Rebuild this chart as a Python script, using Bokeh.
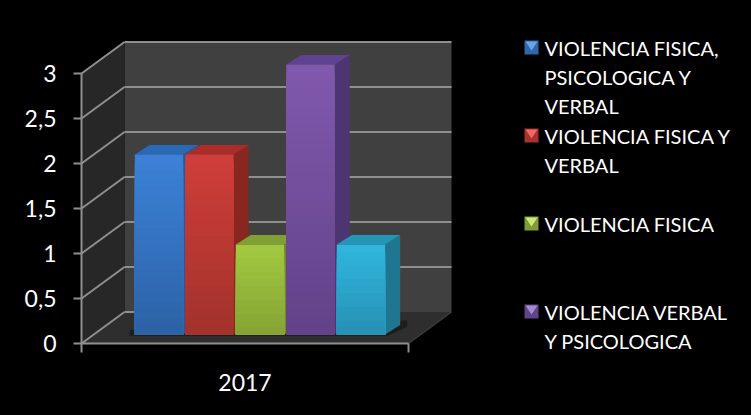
from bokeh.plotting import figure
from bokeh.models import LinearAxis, FixedTicker, Range1d
from bokeh.core.properties import value
from bokeh.embed import file_html
from bokeh.resources import INLINE

# ---- data ----
categories = ["2017"]
series_names = ["VIOLENCIA FISICA, PSICOLOGICA Y VERBAL", "VIOLENCIA FISICA Y VERBAL",
                "VIOLENCIA FISICA", "VIOLENCIA VERBAL Y PSICOLOGICA", "OTRA"]
series_values = [2, 2, 1, 3, 1]
y_ticks = [0, 0.5, 1, 1.5, 2, 2.5, 3]
y_tick_labels = ["0", "0,5", "1", "1,5", "2", "2,5", "3"]
legend_lines = [["VIOLENCIA FISICA,", "PSICOLOGICA Y", "VERBAL"],
                ["VIOLENCIA FISICA Y", "VERBAL"],
                ["VIOLENCIA FISICA"],
                ["VIOLENCIA VERBAL", "Y PSICOLOGICA"]]
top_colors = ["#3c82d8", "#d03e3a", "#a2ca40", "#8059ae", "#30b7de"]
bottom_colors = ["#2c62a6", "#a2322b", "#84a334", "#634288", "#2790b4"]
side_colors = ["#245a9c", "#8a2620", "#6f8a2c", "#4c3570", "#1f7690"]
cap_colors = ["#2a69b6", "#aa2d29", "#7fa033", "#5f4291", "#2596b8"]
legend_light = ["#6aa5e6", "#ec6a66", "#d0e878", "#a68ad0"]
legend_dark = ["#2f68aa", "#a8322e", "#7f9c38", "#5f4488"]

FONT = "Lato"
LINE = "#8f8f8f"

# ---- layout helpers (page pixels -> data) ----
W, H = 751, 415
def X(px): return (px - 158.5) / 50.5
def Y(py): return (343 - py) / 90.0

p = figure(width=W, height=H, output_backend="svg", toolbar_location=None,
           x_range=Range1d(X(0), X(W)), y_range=Range1d(Y(H), Y(0)),
           background_fill_color="black", border_fill_color="black",
           min_border=0, outline_line_color=None)
p.grid.visible = False
p.xaxis.visible = False
p.yaxis.visible = False

DX, DY = 43 / 50.5, 31.5 / 90.0
x0, x1 = X(81), X(408)
top = max(y_ticks)

# walls and floor
p.patch([x0 + DX, x1 + DX, x1 + DX, x0 + DX], [DY, DY, top + DY, top + DY], fill_color="#404040", line_color=None)
p.patch([x0, x0 + DX, x0 + DX, x0], [0, DY, top + DY, top], fill_color="#272727", line_color=None)
p.patch([x0, x1, x1 + DX, x0 + DX], [0, 0, DY, DY], fill_color="#2e2e2e", line_color=None)

# gridlines
for t in y_ticks:
    p.line([x0, x0 + DX], [t, t + DY], line_color=LINE, line_width=2)
    if t > 0:
        p.line([x0 + DX, x1 + DX], [t + DY, t + DY], line_color=LINE, line_width=2)
p.line([x0 + DX, x0 + DX + 0.3], [DY, DY], line_color=LINE, line_width=2)
p.line([x1, x1 + DX], [0, DY], line_color="#3c3c3c", line_width=1.5)

# bars
BASE = 9 / 90.0
HALF = 24.2 / 50.5
bx, by = 15 / 50.5, 9.5 / 90.0

def mix(a, b, t):
    ca = [int(a[i:i + 2], 16) for i in (1, 3, 5)]
    cb = [int(b[i:i + 2], 16) for i in (1, 3, 5)]
    return "#%02x%02x%02x" % tuple(round(u + (v - u) * t) for u, v in zip(ca, cb))

# shadow on the floor
n = len(series_values)
end = n - 1 + HALF
p.patch([-HALF - 0.1, end + 0.05, end + bx + 0.14, end + bx + 0.14, -HALF - 0.1],
        [BASE - 0.015, BASE - 0.015, BASE + by - 0.02, BASE + by + 0.05, BASE + 0.05],
        fill_color="#1d1d1d", line_color=None)

STEPS = 28
for i, v in enumerate(series_values):
    l, r = i - HALF, i + HALF
    b, t = BASE, BASE + v
    p.patch([r, r + bx, r + bx, r], [b, b + by, t + by, t], fill_color=side_colors[i], line_color=None)
    p.patch([l, l + bx, r + bx, r], [t, t + by, t + by, t], fill_color=cap_colors[i], line_color=None)
    steps = max(4, int(STEPS * v / 3) + 4)
    # slices are painted from the top down, each reaching to the base, so no seams show
    for k in range(steps, 0, -1):
        tk = b + (t - b) * k / steps
        col = mix(bottom_colors[i], top_colors[i], (k - 0.5) / steps)
        p.quad(left=[l], right=[r], bottom=[b], top=[tk], fill_color=col, line_color=None)

# axes
p.line([x0, x0], [0, top], line_color=LINE, line_width=2)
p.line([x0, x1], [0, 0], line_color=LINE, line_width=2)
tick_drop = 9 / 90.0
p.segment(x0=[x0, x1], y0=[0, 0], x1=[x0, x1], y1=[-tick_drop, -tick_drop], line_color=LINE, line_width=2)

yax = LinearAxis(fixed_location=x0, ticker=FixedTicker(ticks=y_ticks),
                 major_label_overrides={t: s for t, s in zip(y_ticks, y_tick_labels)},
                 axis_line_color=None,
                 major_tick_line_color=LINE, major_tick_line_width=2,
                 major_tick_out=8, major_tick_in=0, minor_tick_line_color=None,
                 major_label_text_color="white", major_label_text_font=FONT,
                 major_label_text_font_size="23px", major_label_standoff=17)
p.add_layout(yax, "left")

xmid = (x0 + x1) / 2
xax2 = LinearAxis(fixed_location=0, ticker=FixedTicker(ticks=[xmid]),
                  major_label_overrides={xmid: categories[0]},
                  axis_line_color=None, major_tick_line_color=None, minor_tick_line_color=None,
                  major_label_text_color="white", major_label_text_font=FONT,
                  major_label_text_font_size="23px", major_label_standoff=24)
p.add_layout(xax2, "below")

# legend
entry_py = [47, 135, 223, 311]
for i, (lines, py) in enumerate(zip(legend_lines, entry_py)):
    a, c = 524, 538
    u, d = py - 7, py + 7
    p.patch([X(a), X(c), X(c), X(a)], [Y(u), Y(u), Y(d), Y(d)], fill_color=legend_dark[i], line_color=None)
    p.patch([X(a + 1), X(c - 1), X((a + c) / 2)], [Y(u + 1), Y(u + 1), Y(py + 3)], fill_color=legend_light[i], line_color=None)
    p.text(x=[X(544)] * len(lines), y=[Y(py + 29.2 * k) for k in range(len(lines))], text=lines,
           text_color="white", text_font=value(FONT), text_font_size="20px", text_baseline="middle")

html = file_html(p, INLINE)
html = html.replace("<head>", "<head><style>html,body{background:#000;}</style>", 1)
open("out.html", "w").write(html)
